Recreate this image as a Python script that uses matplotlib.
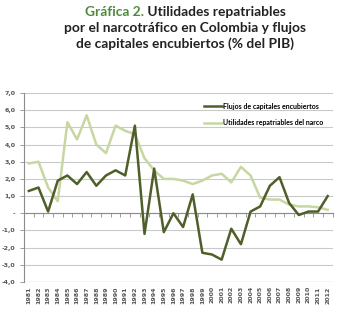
import numpy as np
import matplotlib.pyplot as plt

years = [str(y) for y in range(1981, 2013)]
flujos = [1.3, 1.5, 0.1, 1.9, 2.2, 1.7, 2.4, 1.6, 2.2, 2.5, 2.2, 5.1, -1.2, 2.6, -1.1, 0.0,
          -0.8, 1.1, -2.3, -2.4, -2.7, -0.9, -1.8, 0.1, 0.4, 1.6, 2.1, 0.6, -0.1, 0.1, 0.1, 1.0]
utilidades = [2.9, 3.0, 1.5, 0.7, 5.3, 4.3, 5.7, 4.0, 3.5, 5.1, 4.8, 4.6, 3.2, 2.5, 2.0, 2.0,
              1.9, 1.7, 1.9, 2.2, 2.3, 1.8, 2.7, 2.2, 0.9, 0.8, 0.8, 0.5, 0.4, 0.4, 0.35, 0.2]
yticks = np.arange(-4, 8)
ylabels = ['-' if v == 0 else f'{v:.1f}'.replace('.', ',') for v in yticks]

dark = '#4f5f29'
light = '#c6d7a1'
green = '#4e8a3c'

fig = plt.figure(figsize=(3.45, 3.10), dpi=100)
ax = fig.add_axes([0.0696, 0.0903, 0.8942, 0.6097])
x = np.arange(len(years))

ax.plot(x, utilidades, color=light, lw=1.8, label='Utilidades repatriables del narco', zorder=3)
ax.plot(x, flujos, color=dark, lw=1.8, label='Flujos de capitales encubiertos', zorder=4)

ax.set_xlim(-0.5, len(years) - 0.5)
ax.set_ylim(-4, 7)
ax.set_yticks(yticks)
ax.set_yticklabels(ylabels)
ax.grid(axis='y', color='#c9c9c9', lw=0.8)
ax.set_axisbelow(True)
for s in ['top', 'right']:
    ax.spines[s].set_visible(False)
ax.spines['left'].set_color('#8c8c8c')
ax.spines['left'].set_linewidth(0.8)
ax.spines['bottom'].set_position(('data', 0))
ax.spines['bottom'].set_color('#8c8c8c')
ax.spines['bottom'].set_linewidth(0.8)
ax.set_xticks(np.arange(-0.5, len(years) + 0.5, 1))
ax.set_xticklabels([])
ax.tick_params(axis='x', length=3, width=0.6, color='#8c8c8c', direction='out')
ax.tick_params(axis='y', length=3, width=0.6, color='#8c8c8c', labelsize=4.5,
               labelcolor='#555555', pad=3)
for t in ax.get_yticklabels():
    t.set_fontweight('bold')

sec = ax.secondary_xaxis('bottom')
sec.set_xticks(x)
sec.set_xticklabels(years, rotation=90, fontsize=4.5, color='#555555', fontweight='bold')
sec.tick_params(length=0, pad=3)
sec.spines['bottom'].set_visible(False)
# bottom grid line at -4 acts as base
ax.axhline(-4, color='#8c8c8c', lw=0.8, zorder=1)

h, l = ax.get_legend_handles_labels()
leg = ax.legend(h[::-1], l[::-1], loc='upper right', bbox_to_anchor=(1.0, 1.0), frameon=False,
                prop={'family': 'Lato', 'weight': 'bold', 'size': 5.0}, handlelength=2.6,
                handletextpad=0.1, labelspacing=1.4, borderaxespad=1.0)

# title
lines = [[('Gráfica 2.', green), (' Utilidades repatriables', '#222222')],
         [('por el narcotráfico en Colombia y flujos', '#222222')],
         [('de capitales encubiertos (% del PIB)', '#222222')]]
ys = [0.962, 0.911, 0.860]
fig.canvas.draw()
r = fig.canvas.get_renderer()
cx = 0.537
for parts, yy in zip(lines, ys):
    texts = [fig.text(0, yy, s, color=c, fontsize=9.9, fontweight='bold', family='Lato',
                      va='center', ha='left') for s, c in parts]
    widths = [t.get_window_extent(r).width / fig.bbox.width for t in texts]
    x0 = cx - sum(widths) / 2
    for t, w in zip(texts, widths):
        t.set_x(x0)
        x0 += w

fig.savefig('out.png', dpi=100)
